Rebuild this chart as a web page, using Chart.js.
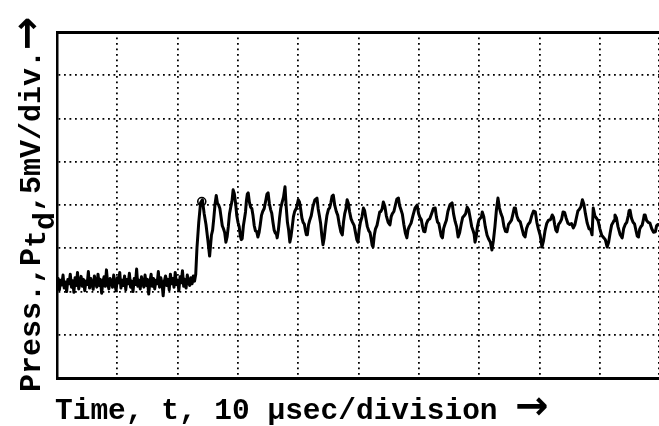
<!DOCTYPE html>
<html>
<head>
<meta charset="utf-8">
<script src="https://cdn.jsdelivr.net/npm/chart.js@4/dist/chart.umd.min.js"></script>
<style>
  html, body { margin: 0; padding: 0; background: #fff; }
  #wrap { position: relative; width: 659px; height: 426px; overflow: hidden; }
  canvas { position: absolute; left: 0; top: 0; }
  .ttl { position: absolute; font-family: "Liberation Mono", "DejaVu Sans Mono", monospace; font-weight: bold; color: #000; white-space: pre; line-height: 1; }
  #ytitle { left: 17px; top: 392px; font-size: 30px; transform-origin: 0 0; transform: rotate(-90deg); }
  #xtitle { left: 55px; top: 397px; font-size: 29.5px; }
  .arrow { font-family: "DejaVu Sans", sans-serif; font-weight: bold; line-height: 0; }
  #ytitle .arrow { font-size: 40px; }
  #xtitle .arrow { font-size: 40px; }
  .sub1 { position: relative; top: 5px; }
  .sub2 { position: relative; top: 9px; }
</style>
</head>
<body>
<div id="wrap">
  <canvas id="c" width="659" height="426"></canvas>
  <div class="ttl" id="ytitle">Press.,P<span class="sub1">t<span class="sub2">d</span></span>,5mV/div.<span class="arrow">→</span></div>
  <div class="ttl" id="xtitle">Time, t, 10 μsec/division <span class="arrow">→</span></div>
</div>
<script>
// Time in divisions (10 µs/div), pressure in divisions (5 mV/div)
// Pre-step baseline
const baseTime = [
  0.00,0.02,0.04,0.06,0.08,0.10,0.12,0.14,0.16,0.18,
  0.20,0.22,0.24,0.26,0.28,0.30,0.32,0.34,0.36,0.38,
  0.40,0.42,0.44,0.46,0.48,0.50,0.52,0.54,0.56,0.58,
  0.60,0.62,0.64,0.66,0.68,0.70,0.72,0.74,0.76,0.78,
  0.80,0.82,0.84,0.86,0.88,0.90,0.92,0.94,0.96,0.98,
  1.00,1.02,1.04,1.06,1.08,1.10,1.12,1.14,1.16,1.18,
  1.20,1.22,1.24,1.26,1.28,1.30,1.32,1.34,1.36,1.38,
  1.40,1.42,1.44,1.46,1.48,1.50,1.52,1.54,1.56,1.58,
  1.60,1.62,1.64,1.66,1.68,1.70,1.72,1.74,1.76,1.78,
  1.80,1.82,1.84,1.86,1.88,1.90,1.92,1.94,1.96,1.98,
  2.00,2.02,2.04,2.06,2.08,2.10,2.12,2.14,2.16,2.18,
  2.20,2.22,2.24,2.26,2.28
];
const basePress = [
  2.12,2.30,2.04,2.26,2.15,2.38,2.08,2.22,2.00,2.28,
  2.18,2.40,2.10,2.25,1.98,2.32,2.14,2.44,2.06,2.20,
  2.35,2.12,2.28,2.02,2.24,2.16,2.46,2.08,2.30,2.18,
  2.05,2.36,2.20,2.10,2.40,2.14,2.28,1.96,2.22,2.34,
  2.12,2.50,2.18,2.06,2.30,2.24,2.10,2.38,2.16,2.02,
  2.32,2.20,2.44,2.08,2.26,2.14,2.36,2.04,2.28,2.18,
  2.42,2.10,2.24,2.00,2.30,2.16,2.52,2.12,2.26,2.06,
  2.34,2.20,2.10,2.38,2.14,2.28,1.94,2.22,2.40,2.12,
  2.30,2.06,2.26,2.18,2.46,2.10,2.32,2.20,1.90,2.24,
  2.36,2.14,2.28,2.04,2.40,2.18,2.30,2.10,2.44,2.16,
  2.26,2.02,2.34,2.20,2.48,2.12,2.28,2.08,2.38,2.22,
  2.14,2.32,2.18,2.36,2.24
];
// Step and oscillating plateau
const waveTime = [
  2.30,2.32,2.35,2.38,2.41,2.44,2.47,2.50,2.53,2.56,2.58,
  2.60,2.62,2.64,2.66,2.68,2.70,2.72,2.74,2.76,2.78,2.80,2.82,2.84,2.86,2.88,2.90,2.92,2.94,2.96,2.98,
  3.00,3.02,3.04,3.055,3.07,3.09,3.11,3.125,3.14,3.155,3.17,3.19,3.21,3.23,3.25,3.27,3.29,3.31,3.33,3.35,
  3.37,3.39,3.41,3.435,3.46,3.48,3.50,3.52,3.54,3.56,3.58,3.60,3.62,3.635,3.65,3.67,3.69,3.71,3.73,3.755,
  3.78,3.80,3.82,3.84,3.86,3.88,3.90,3.92,3.94,3.97,4.00,4.02,4.04,4.06,4.08,4.10,4.12,4.135,4.15,4.17,
  4.19,4.215,4.24,4.275,4.31,4.33,4.35,4.37,4.39,4.41,4.43,4.45,4.475,4.50,4.52,4.54,4.56,4.58,4.605,
  4.63,4.655,4.68,4.705,4.73,4.75,4.77,4.79,4.81,4.83,4.85,4.875,4.90,4.925,4.95,4.97,4.99,5.01,5.03,5.055,
  5.08,5.10,5.12,5.145,5.17,5.19,5.21,5.225,5.24,5.26,5.28,5.305,5.33,5.35,5.37,5.39,5.41,5.435,5.46,5.49,
  5.52,5.54,5.56,5.585,5.61,5.635,5.66,5.68,5.70,5.725,5.75,5.775,5.80,5.82,5.84,5.87,5.90,5.935,5.97,5.995,
  6.02,6.04,6.06,6.08,6.10,6.125,6.15,6.18,6.21,6.24,6.27,6.29,6.31,6.33,6.35,6.37,6.39,6.41,6.43,6.455,
  6.48,6.515,6.55,6.575,6.60,6.625,6.65,6.675,6.70,6.725,6.75,6.775,6.80,6.825,6.85,6.875,6.90,6.915,6.93,6.95,
  6.97,6.995,7.02,7.035,7.05,7.075,7.10,7.13,7.16,7.185,7.21,7.235,7.26,7.285,7.31,7.335,7.36,7.385,7.41,7.435,
  7.46,7.485,7.51,7.535,7.56,7.58,7.60,7.625,7.65,7.68,7.71,7.735,7.76,7.785,7.81,7.84,7.87,7.90,7.93,7.955,
  7.98,8.01,8.04,8.065,8.09,8.12,8.15,8.18,8.21,8.23,8.25,8.27,8.29,8.315,8.34,8.365,8.39,8.415,8.44,8.47,
  8.50,8.53,8.56,8.585,8.61,8.635,8.66,8.685,8.71,8.735,8.76,8.79,8.82,8.845,8.87,8.89,8.915,8.94,8.97,
  9.00,9.03,9.06,9.09,9.12,9.145,9.17,9.195,9.22,9.235,9.25,9.275,9.30,9.335,9.37,9.395,9.42,9.445,9.47,9.485,
  9.50,9.525,9.55,9.575,9.60,9.62,9.64,9.66,9.68,9.70,9.72,9.735,9.75,9.775,9.80,9.83,9.86,9.89,9.92,9.94,
  9.96,9.98
];
const wavePress = [
  2.40,3.00,3.60,4.05,4.12,3.80,3.55,3.20,2.82,3.30,3.42,
  3.70,4.02,4.22,4.04,4.00,3.92,3.72,3.52,3.45,3.36,3.14,3.26,3.50,3.80,3.95,4.08,4.35,4.26,4.05,3.76,
  3.60,3.50,3.28,3.20,3.22,3.52,3.70,3.84,4.10,4.25,4.28,4.06,3.95,3.92,3.75,3.52,3.40,3.39,3.26,3.36,
  3.55,3.76,3.85,3.92,4.10,4.25,4.28,4.04,3.90,3.81,3.60,3.42,3.35,3.35,3.24,3.42,3.70,3.93,4.05,4.18,
  4.42,3.95,3.60,3.42,3.14,3.28,3.50,3.73,3.85,3.93,4.12,4.07,3.90,3.70,3.60,3.56,3.40,3.31,3.31,3.54,
  3.65,3.75,3.95,4.12,4.16,3.91,3.75,3.58,3.30,3.08,3.24,3.50,3.76,3.90,3.93,4.05,4.20,4.23,3.99,
  3.85,3.76,3.55,3.38,3.31,3.61,3.80,3.91,4.12,4.04,3.85,3.68,3.60,3.53,3.35,3.20,3.14,3.43,3.60,3.72,
  3.93,3.87,3.70,3.50,3.40,3.36,3.20,3.07,3.03,3.30,3.45,3.53,3.70,3.84,3.85,3.91,4.07,3.97,3.75,3.60,
  3.54,3.73,3.80,3.85,4.00,4.14,4.16,3.98,3.90,3.79,3.55,3.35,3.24,3.43,3.50,3.58,3.75,3.93,4.00,3.80,
  3.70,3.66,3.50,3.39,3.38,3.57,3.65,3.68,3.80,3.92,3.93,3.72,3.60,3.57,3.42,3.28,3.24,3.46,3.55,3.65,
  3.85,4.01,4.05,3.79,3.62,3.50,3.26,3.36,3.55,3.71,3.75,3.80,3.95,3.89,3.70,3.50,3.40,3.33,3.14,3.27,
  3.50,3.66,3.70,3.72,3.84,3.73,3.50,3.30,3.20,3.14,2.96,3.18,3.50,3.89,4.16,3.93,3.80,3.71,3.50,3.39,
  3.38,3.55,3.60,3.65,3.80,3.93,3.93,3.74,3.65,3.61,3.45,3.31,3.26,3.46,3.55,3.60,3.75,3.86,3.84,3.60,
  3.45,3.30,3.03,3.17,3.40,3.58,3.65,3.66,3.77,3.72,3.55,3.42,3.38,3.55,3.60,3.67,3.84,3.83,3.70,3.58,
  3.55,3.57,3.47,3.54,3.70,3.86,3.90,3.96,4.12,4.02,3.80,3.58,3.45,3.44,3.31,3.93,3.76,3.70,3.64,
  3.45,3.30,3.25,3.20,3.03,3.14,3.35,3.54,3.60,3.64,3.77,3.70,3.50,3.32,3.24,3.46,3.55,3.60,3.75,3.87,
  3.88,3.69,3.60,3.56,3.40,3.28,3.26,3.44,3.50,3.53,3.65,3.77,3.77,3.64,3.60,3.58,3.45,3.37,3.38,3.52,
  3.55,3.54
];
// small circle marker drawn on the trace at the start of the step
const markerTime = [2.40];
const markerPress = [4.08];

const xMin = 0, xMax = 9.98, yMin = 0, yMax = 8;

const traceTime = baseTime.concat(waveTime);
const tracePress = basePress.concat(wavePress);
const tracePts = traceTime.map((t, i) => ({x: t, y: tracePress[i]}));
const markerPts = markerTime.map((t, i) => ({x: t, y: markerPress[i]}));

const gridStyle = {
  display: true, color: '#000', lineWidth: 1.8, drawTicks: false, tickLength: 0
};

new Chart(document.getElementById('c'), {
  type: 'line',
  data: {
    datasets: [
      { data: tracePts, borderColor: '#000', borderWidth: 3, pointRadius: 0, tension: 0, fill: false, borderJoinStyle: 'round', borderCapStyle: 'round' },
      { data: markerPts, showLine: false, pointRadius: 4, pointBorderWidth: 1.6, pointBorderColor: '#000', pointBackgroundColor: 'rgba(0,0,0,0)' }
    ]
  },
  options: {
    responsive: false,
    devicePixelRatio: 1,
    animation: false,
    events: [],
    layout: { autoPadding: false, padding: { left: 57, top: 32, right: 0, bottom: 48 } },
    plugins: { legend: { display: false }, tooltip: { enabled: false } },
    scales: {
      x: {
        type: 'linear', position: 'bottom', min: xMin, max: xMax,
        ticks: { display: false, stepSize: 1 },
        grid: gridStyle,
        border: { display: true, color: '#000', width: 3, dash: [1.8, 3.7] }
      },
      xTop: {
        type: 'linear', position: 'top', min: xMin, max: xMax,
        ticks: { display: false },
        grid: { display: false, drawTicks: false },
        border: { display: true, color: '#000', width: 3 }
      },
      y: {
        type: 'linear', position: 'left', min: yMin, max: yMax,
        ticks: { display: false, stepSize: 1 },
        grid: gridStyle,
        border: { display: true, color: '#000', width: 2.5, dash: [1.8, 3.7] }
      }
    }
  }
});
</script>
</body>
</html>
